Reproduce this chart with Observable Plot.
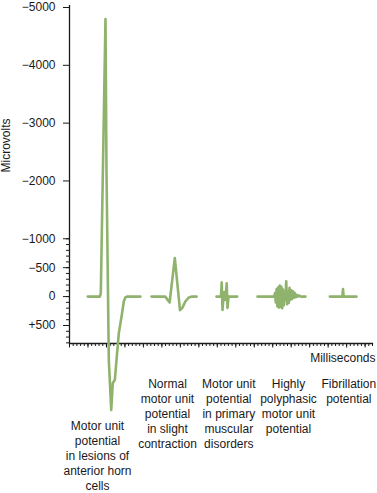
<!DOCTYPE html>
<html>
<head>
<meta charset="utf-8">
<script src="https://cdn.jsdelivr.net/npm/d3@7"></script>
<script src="https://cdn.jsdelivr.net/npm/@observablehq/plot@0.6"></script>
<style>
  html, body { margin: 0; padding: 0; background: #fff; }
</style>
</head>
<body>
<div id="chart"></div>
<script>
// Waveforms: time (ms, arbitrary origin) and potential (microvolts; negative = upward)
const lesionMs = [4.95, 8.2, 8.47, 9.74, 10.01, 10.64, 11.29, 11.72, 12.26, 13.34, 14.26, 14.7, 15.16, 15.7, 19.2];
const lesionUv = [0, 0, -60, -4800, -2180, 1100, 1960, 1495, 1443, 636, 275, 80, 10, 0, 0];

const normalMs = [22.2, 25.9, 27.1, 28.5, 29.9, 30.6, 31.3, 32.2, 33.0, 34.4];
const normalUv = [0, 0, 100, -665, 235, 190, 90, 20, 0, 0];

const muscularMs = [39.78, 41.0, 41.19, 41.41, 41.68, 41.95, 42.22, 42.54, 42.76, 43.03, 45.39];
const muscularUv = [0, 0, -245, 230, 0, -80, 60, -230, 195, 0, 0];

const polyMs = [50.88, 55.35, 55.62, 55.83, 56.05, 56.26, 56.48, 56.70, 56.91, 57.13, 57.35, 57.56, 57.78, 58.00, 58.21, 58.43, 58.65, 58.89, 59.11, 59.32, 59.54, 59.76, 60.00, 60.24, 60.49, 60.73, 60.97, 61.22, 61.49, 61.79, 62.11, 62.52, 63.87];
const polyUv = [0, 0, -60, 100, -130, 170, -160, 190, -190, 180, -170, 200, -120, 150, -60, 60, -265, 130, -80, 110, -150, 60, -110, 40, -90, 20, -60, 10, -30, 0, -20, 0, 0];

const fibMs = [70.45, 73.83, 74.02, 74.2, 77.67];
const fibUv = [0, 0, -130, 0, 0];

// Category labels under the axis
const labelText = [
  "Motor unit\npotential\nin lesions of\nanterior horn\ncells",
  "Normal\nmotor unit\npotential\nin slight\ncontraction",
  "Motor unit\npotential\nin primary\nmuscular\ndisorders",
  "Highly\npolyphasic\nmotor unit\npotential",
  "Fibrillation\npotential"
];
const labelMs = [7.58, 26.52, 43.11, 59.27, 75.59];

// Axis ticks
const yTicks = [-5000, -4000, -3000, -2000, -1000, -500, 0, 500];
const yTickLabels = ["\u22125000", "\u22124000", "\u22123000", "\u22122000", "\u22121000", "\u2212500", "0", "+500"];
const yMinorTicks = d3.range(-1000, 801, 100);
const xMinorTicks = d3.range(0, 83, 1);
const xMajorTicks = d3.range(0, 83, 5);

const series = [
  [labelText[0], lesionMs, lesionUv],
  [labelText[1], normalMs, normalUv],
  [labelText[2], muscularMs, muscularUv],
  [labelText[3], polyMs, polyUv],
  [labelText[4], fibMs, fibUv]
];
const rows = series.flatMap(([name, ms, uv]) => ms.map((m, i) => ({series: name, ms: m, uv: uv[i]})));
const labels = labelText.map((t, i) => ({text: t, ms: labelMs[i]}));

const green = "#8fb36c";
const ink = "#1a1a1a";

const chart = Plot.plot({
  width: 377,
  height: 493,
  marginTop: 5,
  marginLeft: 69,
  marginRight: 5,
  marginBottom: 150,
  style: {fontFamily: "'Liberation Sans', Arial, Helvetica, sans-serif", fontSize: "12px", color: ink, background: "#fff"},
  x: {domain: [0, 82], axis: null},
  y: {domain: [-5000, 500], range: [7, 325], axis: null},
  marks: [
    Plot.ruleX([0], {stroke: ink, strokeWidth: 1.3}),
    Plot.frame({anchor: "bottom", stroke: ink, strokeWidth: 1.3}),
    Plot.axisY({ticks: yTicks, label: null, tickFormat: (d) => yTickLabels[yTicks.indexOf(d)], tickSize: 6, tickPadding: 8, fontSize: 12, stroke: ink, fill: ink}),
    Plot.axisY({ticks: yMinorTicks, label: null, tickFormat: () => "", tickSize: 3, stroke: ink}),
    Plot.axisX({ticks: xMinorTicks, label: null, tickFormat: () => "", tickSize: 3, stroke: ink}),
    Plot.axisX({ticks: xMajorTicks, label: null, tickFormat: () => "", tickSize: 4.5, stroke: ink}),
    Plot.line(rows, {x: "ms", y: "uv", z: "series", stroke: green, strokeWidth: 2.6, strokeLinejoin: "round", strokeLinecap: "round"}),
    Plot.text(["Microvolts"], {frameAnchor: "left", rotate: -90, dx: -63, dy: -2, fontSize: 12, fill: ink}),
    Plot.text(["Milliseconds"], {frameAnchor: "bottom-right", textAnchor: "end", dx: 3, dy: 18, fontSize: 12, fill: ink}),
    Plot.text(labels.slice(0, 1), {x: "ms", text: "text", frameAnchor: "bottom", lineAnchor: "top", dy: 75.5, lineHeight: 1.26, fontSize: 12, fill: ink}),
    Plot.text(labels.slice(1), {x: "ms", text: "text", frameAnchor: "bottom", lineAnchor: "top", dy: 33.5, lineHeight: 1.26, fontSize: 12, fill: ink})
  ]
});
document.getElementById("chart").append(chart);
</script>
</body>
</html>
